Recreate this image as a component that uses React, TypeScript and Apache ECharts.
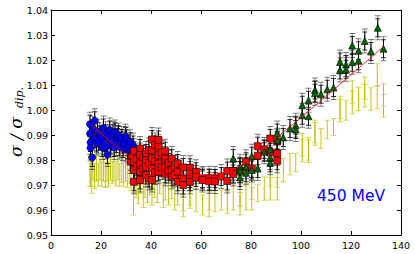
import React, { useEffect, useRef } from "react";
import * as echarts from "echarts";

const X_TICKS = [0, 20, 40, 60, 80, 100, 120, 140];
const Y_MIN = 0.95;
const Y_MAX = 1.04;

const blueData = [
  [15.6, 0.9943], [15.6, 0.9905], [15.8, 0.987], [15.8, 0.9848], [16.5, 0.981], [16.8, 0.9925],
  [17.5, 0.9957], [17.6, 0.9885], [18.2, 0.9868], [18.6, 0.9915], [19.0, 0.9875], [19.5, 0.99],
  [20.1, 0.989], [20.5, 0.985], [21.0, 0.9928], [21.3, 0.987], [21.8, 0.9905], [22.0, 0.9852],
  [22.6, 0.9822], [23.0, 0.9892], [23.5, 0.992], [23.8, 0.986], [24.3, 0.9875], [24.8, 0.9905],
  [25.3, 0.985], [25.6, 0.9912], [26.1, 0.9866], [26.6, 0.989], [27.0, 0.99], [27.5, 0.9852],
  [28.0, 0.9875], [28.3, 0.9886], [28.8, 0.9846], [29.3, 0.9866], [29.8, 0.9895], [30.1, 0.9884],
  [30.6, 0.984], [31.0, 0.9853], [31.6, 0.9873], [32.0, 0.9832], [32.3, 0.9826], [32.8, 0.986],
];

const redData = [
  [31.8, 0.9795], [32.5, 0.9815],
  [33.2, 0.9837], [33.2, 0.9793], [33.2, 0.976], [33.2, 0.9713],
  [34.4, 0.9805], [34.4, 0.9775],
  [35.6, 0.9846], [35.6, 0.982], [35.6, 0.9786], [35.6, 0.9753], [35.6, 0.972],
  [36.8, 0.981], [36.8, 0.9765],
  [38.0, 0.9826], [38.0, 0.9799], [38.0, 0.9773], [38.0, 0.974],
  [39.2, 0.984], [39.2, 0.979], [39.2, 0.9728],
  [40.4, 0.9882], [40.4, 0.9839], [40.4, 0.9806], [40.4, 0.9766], [40.4, 0.972],
  [41.6, 0.986], [41.6, 0.9795], [41.6, 0.975],
  [43.0, 0.988], [43.0, 0.9853], [43.0, 0.9819], [43.0, 0.9786], [43.0, 0.9753],
  [44.3, 0.983], [44.3, 0.977],
  [45.7, 0.9835], [45.7, 0.9806], [45.7, 0.9773], [45.7, 0.9745],
  [47.0, 0.979], [47.0, 0.9755],
  [48.3, 0.9806], [48.3, 0.976], [48.3, 0.9733],
  [49.5, 0.977], [49.5, 0.974],
  [50.7, 0.9786], [50.7, 0.9753], [50.7, 0.9713],
  [52.9, 0.977], [52.9, 0.9726], [52.9, 0.97],
  [55.6, 0.9769], [55.6, 0.9746], [55.6, 0.9726], [55.6, 0.9713],
  [58.0, 0.9753], [58.0, 0.973],
  [60.6, 0.9726], [60.6, 0.972],
  [63.3, 0.9727], [63.3, 0.9715],
  [65.6, 0.9726], [65.6, 0.9714],
  [68.1, 0.9734],
  [70.5, 0.9756], [70.5, 0.9716],
  [72.9, 0.9756], [72.9, 0.9744],
  [75.6, 0.9758],
  [78.0, 0.9793],
  [80.3, 0.9766],
  [82.7, 0.9855], [82.7, 0.9817],
  [85.3, 0.9842],
  [87.7, 0.9886], [87.7, 0.983],
  [90.5, 0.9875], [90.5, 0.9826], [90.5, 0.9797],
];

const greenData = [
  [72.9, 0.9806],
  [75.6, 0.9775], [75.6, 0.9757], [75.6, 0.973],
  [78.0, 0.9773], [78.0, 0.9749],
  [80.3, 0.9815], [80.3, 0.976],
  [82.7, 0.9766],
  [85.3, 0.9833],
  [87.7, 0.9842], [87.7, 0.981], [87.7, 0.9789],
  [90.5, 0.9908], [90.5, 0.9879],
  [92.9, 0.989],
  [95.6, 0.9926],
  [97.9, 0.9939], [97.9, 0.9922],
  [100.5, 1.0019], [100.5, 0.9979],
  [103.0, 1.0039], [103.0, 0.9975],
  [105.6, 1.008], [105.6, 1.0067],
  [108.0, 1.0063],
  [110.5, 1.0083],
  [113.0, 1.009],
  [115.6, 1.0192], [115.6, 1.016],
  [118.0, 1.0182], [118.0, 1.0163],
  [120.5, 1.0258], [120.5, 1.0191],
  [123.0, 1.0237], [123.0, 1.0197],
  [125.5, 1.0276],
  [128.0, 1.0234],
  [130.7, 1.0329],
  [133.0, 1.0245],
];

// [x, y, error]
const yellowData = [
  [15.6, 0.976, 0.0065], [15.9, 0.9745, 0.005], [16.3, 0.9717, 0.005], [16.8, 0.977, 0.005],
  [17.4, 0.9735, 0.005], [18.2, 0.9765, 0.005], [18.9, 0.974, 0.0045], [19.6, 0.977, 0.005],
  [20.3, 0.9745, 0.005], [21.0, 0.9765, 0.005], [21.7, 0.974, 0.005], [22.4, 0.976, 0.0045],
  [23.0, 0.9745, 0.005], [23.8, 0.977, 0.005], [24.5, 0.975, 0.0045], [25.2, 0.9765, 0.005],
  [26.0, 0.9745, 0.005], [26.8, 0.977, 0.005], [27.5, 0.974, 0.0045], [28.3, 0.976, 0.005],
  [29.0, 0.9745, 0.005], [29.8, 0.9765, 0.005], [30.5, 0.9735, 0.0045], [31.3, 0.9755, 0.005],
  [32.0, 0.973, 0.005], [33.0, 0.964, 0.006], [33.0, 0.972, 0.005],
  [34.0, 0.97, 0.005], [34.9, 0.968, 0.0055], [35.8, 0.9715, 0.005], [36.9, 0.966, 0.005],
  [37.6, 0.97, 0.005], [38.6, 0.968, 0.005], [39.5, 0.971, 0.005], [40.4, 0.967, 0.005],
  [41.5, 0.97, 0.005], [42.5, 0.968, 0.005], [43.5, 0.971, 0.0045], [44.9, 0.966, 0.005],
  [45.7, 0.969, 0.005], [47.0, 0.967, 0.005], [48.3, 0.969, 0.0045], [49.5, 0.965, 0.005],
  [50.7, 0.967, 0.005],
  [52.9, 0.9618, 0.0045], [52.9, 0.9641, 0.0045],
  [55.6, 0.9647, 0.004], [55.6, 0.966, 0.004],
  [58.0, 0.964, 0.0047],
  [60.6, 0.962, 0.004],
  [63.3, 0.9623, 0.005], [63.3, 0.964, 0.004],
  [65.6, 0.963, 0.0037],
  [68.1, 0.964, 0.004],
  [70.5, 0.963, 0.0043],
  [72.9, 0.965, 0.005],
  [75.6, 0.9625, 0.0045], [75.6, 0.966, 0.0045],
  [78.0, 0.9653, 0.0053],
  [80.3, 0.9645, 0.0045], [80.3, 0.9688, 0.0045],
  [82.7, 0.9667, 0.0034],
  [85.3, 0.9686, 0.0047],
  [87.7, 0.9685, 0.0045], [87.7, 0.9741, 0.0045],
  [90.5, 0.9685, 0.0045], [90.5, 0.9735, 0.0045],
  [92.9, 0.976, 0.0047],
  [95.6, 0.9783, 0.0043],
  [97.9, 0.979, 0.0037],
  [100.5, 0.9838, 0.0045], [100.5, 0.9861, 0.0045],
  [103.0, 0.9835, 0.0045], [103.0, 0.9845, 0.0045],
  [105.6, 0.9904, 0.0045], [105.6, 0.9914, 0.0045],
  [108.0, 0.9886, 0.004],
  [110.5, 0.9922, 0.0037],
  [113.0, 0.9932, 0.0034],
  [115.6, 0.9997, 0.0045], [115.6, 1.001, 0.0045],
  [118.0, 0.9999, 0.004],
  [120.5, 1.003, 0.0045], [120.5, 1.0072, 0.0045],
  [123.0, 1.0045, 0.0047],
  [125.5, 1.0057, 0.0045], [125.5, 1.0087, 0.0045],
  [128.0, 1.0044, 0.0045],
  [130.5, 1.0051, 0.0045], [130.5, 1.014, 0.0045],
  [133.0, 1.0017, 0.0045], [133.0, 1.006, 0.0045],
];

const BLACK_ERR_OUTER = 0.0048;
const BLACK_ERR_INNER = 0.0036;

const fitX = [16, 20, 25, 30, 35, 40, 45, 50, 55, 60, 65, 70, 75, 80, 85, 90, 95, 100, 105, 110, 115, 120, 125, 130, 133];
const fitY = [0.9942, 0.9907, 0.9863, 0.9824, 0.9793, 0.9773, 0.9758, 0.9748, 0.9742, 0.974, 0.9743, 0.9752, 0.9772, 0.9808, 0.9848, 0.9888, 0.9929, 0.997, 1.0012, 1.0055, 1.0098, 1.0141, 1.0184, 1.0228, 1.0254];

function errRender(lineColor: string, capColor: string, cap: number) {
  return (params: any, api: any) => {
    const x = api.value(0);
    const y = api.value(1);
    const e = api.value(2);
    const p1 = api.coord([x, y + e]);
    const p2 = api.coord([x, y - e]);
    return {
      type: "group",
      children: [
        { type: "line", shape: { x1: p1[0], y1: p1[1], x2: p2[0], y2: p2[1] }, style: { stroke: lineColor, lineWidth: 1 } },
        { type: "line", shape: { x1: p1[0] - cap, y1: p1[1], x2: p1[0] + cap, y2: p1[1] }, style: { stroke: capColor, lineWidth: 1 } },
        { type: "line", shape: { x1: p2[0] - cap, y1: p2[1], x2: p2[0] + cap, y2: p2[1] }, style: { stroke: capColor, lineWidth: 1 } },
      ],
    };
  };
}

function errSeries(data: number[][], lineColor: string, capColor: string, cap: number) {
  return {
    type: "custom",
    renderItem: errRender(lineColor, capColor, cap),
    data,
    encode: { x: 0, y: 1 },
    silent: true,
  };
}

function blackBars(pts: number[][]) {
  return [
    errSeries(pts.map((p) => [p[0], p[1], BLACK_ERR_OUTER]), "rgba(0,0,0,0.45)", "rgba(0,0,0,0.5)", 3),
    errSeries(pts.map((p) => [p[0], p[1], BLACK_ERR_INNER]), "#000", "rgba(0,0,0,0.8)", 2.5),
  ];
}

export default function App() {
  const ref = useRef<HTMLDivElement>(null);
  useEffect(() => {
    if (!ref.current) return;
    const chart = echarts.init(ref.current, null, { renderer: "svg" });
    const font = "DejaVu Sans";
    const axisCommon = {
      type: "value",
      axisLine: { show: true, onZero: false, lineStyle: { color: "#000", width: 1 } },
      axisTick: { show: true, inside: true, length: 4, lineStyle: { color: "#000" } },
      splitLine: { show: false },
    };
    chart.setOption({
      animation: false,
      backgroundColor: "#fff",
      grid: { left: 51, top: 10, width: 350, height: 225, containLabel: false },
      xAxis: [
        {
          ...axisCommon,
          min: 0, max: 140, interval: 20, position: "bottom",
          axisLabel: { color: "#000", fontFamily: font, fontSize: 9.5, margin: 5, formatter: (v: number) => (X_TICKS.includes(v) ? String(v) : "") },
        },
        {
          ...axisCommon,
          min: 0, max: 140, interval: 20, position: "top",
          axisLabel: { show: false },
        },
      ],
      yAxis: [
        {
          ...axisCommon,
          min: Y_MIN, max: Y_MAX, interval: 0.01, position: "left",
          axisLabel: { color: "#000", fontFamily: font, fontSize: 9.5, margin: 3, formatter: (v: number) => v.toFixed(2) },
        },
        {
          ...axisCommon,
          min: Y_MIN, max: Y_MAX, interval: 0.01, position: "right",
          axisLabel: { show: false },
        },
      ],
      graphic: [
        {
          type: "group",
          x: 16,
          y: 157,
          rotation: Math.PI / 2,
          children: [
            { type: "text", x: 0, y: 0, style: { text: "σ / σ", font: "italic 17px 'DejaVu Serif'", fill: "#000", verticalAlign: "middle", align: "left" } },
            { type: "text", x: 49, y: 3, style: { text: "dip.", font: "italic 11px 'DejaVu Serif'", fill: "#000", verticalAlign: "middle", align: "left" } },
          ],
        },
        {
          type: "text",
          left: 317,
          top: 188,
          style: { text: "450 MeV", font: "15.5px 'DejaVu Sans'", fill: "#0000ff" },
        },
      ],
      series: [
        errSeries(yellowData, "rgba(190,190,0,0.95)", "rgba(200,200,20,0.65)", 3),
        ...blackBars(blueData),
        {
          type: "scatter", data: blueData, symbol: "circle", symbolSize: 7,
          itemStyle: { color: "#0000ff", borderColor: "#000", borderWidth: 0.6, opacity: 1 },
        },
        ...blackBars(redData),
        {
          type: "scatter", data: redData, symbol: "rect", symbolSize: 7,
          itemStyle: { color: "#ff0000", borderColor: "#000", borderWidth: 0.6, opacity: 1 },
        },
        ...blackBars(greenData),
        {
          type: "scatter", data: greenData, symbol: "triangle", symbolSize: 7,
          itemStyle: { color: "#006400", borderColor: "#000", borderWidth: 0.6, opacity: 1 },
        },
        {
          type: "line",
          data: fitX.map((x, i) => [x, fitY[i]]),
          smooth: true,
          showSymbol: false,
          lineStyle: { color: "#ff0000", width: 1, opacity: 0.85 },
          z: 5,
        },
      ],
    });
    return () => chart.dispose();
  }, []);
  return <div ref={ref} style={{ position: "fixed", left: 0, top: 0, width: 415, height: 254 }} />;
}
